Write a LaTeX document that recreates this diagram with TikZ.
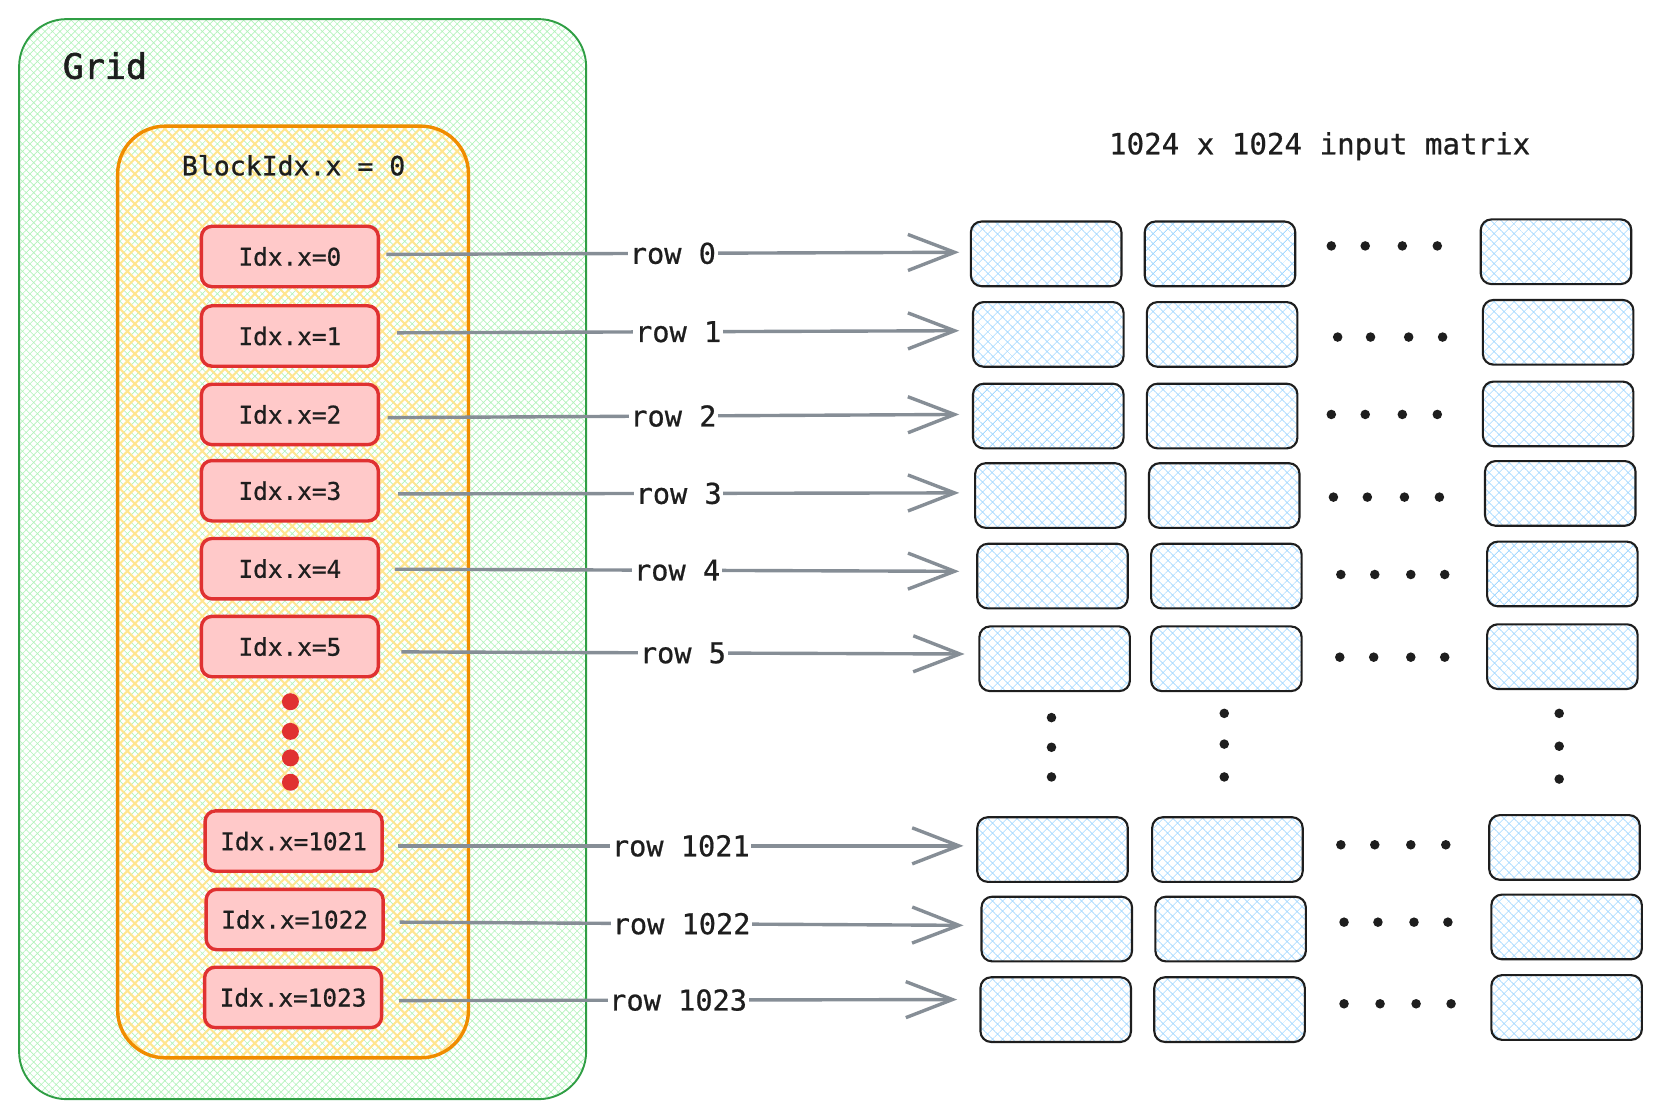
\documentclass[tikz,border=0pt]{standalone}
\usepackage{fontspec}
\newfontfamily\mono[FakeBold=0.7]{DejaVu Sans Mono}
\newfontfamily\monoheavy[FakeBold=1.6]{DejaVu Sans Mono}
\usetikzlibrary{patterns.meta,arrows.meta}
\definecolor{ink}{HTML}{1E1E1E}
\definecolor{gbord}{HTML}{2F9E44}
\definecolor{ghatch}{HTML}{B2F2BB}
\definecolor{obord}{HTML}{F08C00}
\definecolor{yhatch}{HTML}{FFE58F}
\definecolor{redb}{HTML}{E03131}
\definecolor{redf}{HTML}{FFC9C9}
\definecolor{arrgray}{HTML}{868E96}
\definecolor{bhatch}{HTML}{A5D8FF}
\begin{document}
\begin{tikzpicture}[x=1pt,y=-1pt,
  idxbox/.style={draw=redb, fill=redf, line width=3.2pt, rounded corners=10pt,
    minimum width=167pt, minimum height=57pt, inner sep=0pt, text=ink,
    font=\mono\fontsize{23}{27}\selectfont},
  cellbox/.style={draw=ink, line width=2pt, rounded corners=10pt,
    minimum width=142pt, minimum height=61pt, inner sep=0pt,
    pattern={Hatch[angle=45,distance=6.5pt,line width=0.7pt]}, pattern color=bhatch},
  arr/.style={draw=arrgray, line width=3.2pt,
    -{Straight Barb[length=44pt,width=34pt,line width=3.2pt]}},
  rowlbl/.style={fill=white, inner sep=1.5pt, text=ink,
    font=\mono\fontsize{27}{31}\selectfont},
  bdot/.style={fill=ink, draw=none},
  rdot/.style={fill=redb, draw=none}
]
\useasboundingbox (0,0) rectangle (1568,1055);

% Grid container
\draw[draw=gbord, line width=1.8pt, rounded corners=45pt,
  pattern={Hatch[angle=45,distance=5pt,line width=0.6pt]}, pattern color=ghatch]
  (18,18) rectangle (553,1037);
\node[text=ink, font=\monoheavy\fontsize{33}{38}\selectfont] (gridlbl) at (99,62) {Grid};

% Block container
\draw[draw=obord, line width=3.2pt, rounded corners=45pt,
  pattern={Hatch[angle=45,distance=10pt,line width=1.9pt]}, pattern color=yhatch]
  (111,119) rectangle (442,998);
\node[text=ink, font=\mono\fontsize{25}{29}\selectfont] (blocklbl) at (277,156) {BlockIdx.x = 0};

% thread boxes
\foreach \n/\x/\y in {0/273.5/242, 1/273.5/317, 2/273.5/391, 3/273.5/463, 4/273.5/536.5,
  5/273.5/610, 1021/277/793.5, 1022/278/867.5, 1023/276.5/941}
  \node[idxbox] (idx\n) at (\x,\y) {Idx.x=\n};

% red dots
\foreach \y [count=\i] in {662,690,715,738}
  \fill[rdot] (274,\y) circle (8) coordinate (rd\i);

% title
\node[text=ink, font=\mono\fontsize{27.5}{32}\selectfont] (title) at (1245,138) {1024 x 1024 input matrix};

% matrix cells
\foreach \n/\xa/\xb/\xc/\ya/\yc in {
  0/987/1151/1468/239.5/237.5,
  1/989/1153/1470/315.5/313.5,
  2/989/1153/1470/392.5/390.5,
  3/991/1155/1472/467.5/465.5,
  4/993/1157/1474/543.5/541.5,
  5/995/1157/1474/621.5/619.5,
  1021/993/1158/1476/801.5/799.5,
  1022/997/1161/1478/876.5/874.5,
  1023/996/1160/1478/952.5/950.5}{
  \node[cellbox] (c\n a) at (\xa,\ya) {};
  \node[cellbox] (c\n b) at (\xb,\ya) {};
  \node[cellbox] (c\n d) at (\xc,\yc) {};
}

% horizontal dots
\foreach \y/\a/\b/\c/\d in {232/1256/1288/1323/1356, 318/1262/1293/1329/1361,
  391/1256/1288/1323/1356, 469/1258/1290/1325/1358, 542/1265/1297/1331/1363,
  620/1264/1296/1331/1363, 797/1265/1297/1331/1364, 870/1268/1300/1334/1366,
  947/1268/1302/1336/1369}{
  \foreach \x in {\a,\b,\c,\d} \fill[bdot] (\x,\y) circle (4.5);
}

% vertical dots
\foreach \x/\a/\b/\c in {992/677/705/733, 1155/673/702/733, 1471/673/704/735}{
  \foreach \y in {\a,\b,\c} \fill[bdot] (\x,\y) circle (4.5);
}

% arrow tips (free ends just left of the first cell of each row)
\foreach \n/\ex/\ey in {0/905/238, 1/905/312, 2/905/391, 3/905/465, 4/905/539,
  5/910/617, 1021/909/798, 1022/909/873, 1023/903/943}
  \coordinate (e\n) at (\ex,\ey);

% arrows
\foreach \n/\dx/\dy in {0/6/-2, 1/16/-3, 2/7/3, 3/17/3, 4/14/0.5, 5/20/5,
  1021/13.5/4.5, 1022/14/2.5, 1023/15/3}
  \draw[arr] ([shift={(\dx,\dy)}]idx\n.east) -- (e\n)
    node[rowlbl, pos=0.5] (lbl\n) {row \n};

\end{tikzpicture}
\end{document}
